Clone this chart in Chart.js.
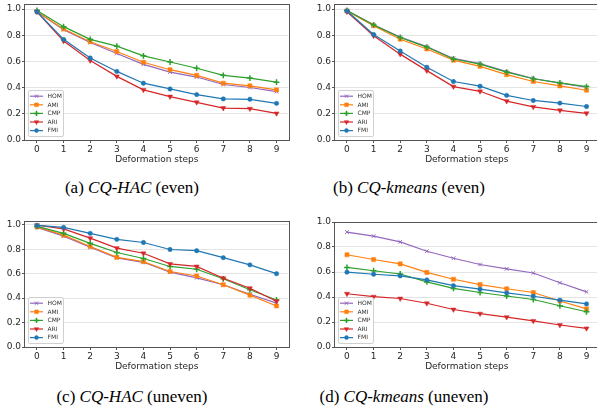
<!DOCTYPE html>
<html>
<head>
<meta charset="utf-8">
<script src="https://cdn.jsdelivr.net/npm/chart.js@4.4.1/dist/chart.umd.min.js"></script>
<style>
  body { margin: 0; width: 597px; height: 419px; overflow: hidden; background: #fff; position: relative; }
  canvas { position: absolute; }
  .cap { position: absolute; font-family: 'Liberation Serif', serif; font-size: 17px; line-height: 1;
         white-space: nowrap; transform: translate(-50%, -50%); color: #000; }
</style>
</head>
<body>
<canvas id="chartA" width="294" height="173" style="left:0px;top:-3px"></canvas>
<canvas id="chartB" width="294" height="173" style="left:310px;top:-3px"></canvas>
<canvas id="chartC" width="294" height="163" style="left:0px;top:214px"></canvas>
<canvas id="chartD" width="294" height="162" style="left:310px;top:215px"></canvas>
<div class="cap" style="left:132px;top:187px">(a) <i>CQ-HAC</i> (even)</div>
<div class="cap" style="left:409px;top:187px">(b) <i>CQ-kmeans</i> (even)</div>
<div class="cap" style="left:132px;top:396px">(c) <i>CQ-HAC</i> (uneven)</div>
<div class="cap" style="left:404px;top:396px">(d) <i>CQ-kmeans</i> (uneven)</div>
<script>
// x values and tick labels
const steps = [0, 1, 2, 3, 4, 5, 6, 7, 8, 9];
const yTicks = [0, 0.2, 0.4, 0.6, 0.8, 1.0];
const metrics = ['HOM', 'AMI', 'CMP', 'ARI', 'FMI'];

// (a) CQ-HAC (even)
const homA = [0.98, 0.843, 0.745, 0.661, 0.578, 0.519, 0.481, 0.424, 0.401, 0.370];
const amiA = [0.98, 0.848, 0.751, 0.676, 0.594, 0.537, 0.494, 0.434, 0.414, 0.383];
const cmpA = [0.99, 0.866, 0.769, 0.717, 0.643, 0.596, 0.548, 0.494, 0.473, 0.442];
const ariA = [0.98, 0.756, 0.607, 0.486, 0.383, 0.332, 0.288, 0.244, 0.239, 0.203];
const fmiA = [0.98, 0.769, 0.627, 0.524, 0.434, 0.390, 0.347, 0.314, 0.311, 0.280];

// (b) CQ-kmeans (even)
const homB = [0.99, 0.881, 0.786, 0.713, 0.623, 0.584, 0.522, 0.470, 0.434, 0.403];
const amiB = [0.985, 0.873, 0.770, 0.695, 0.610, 0.563, 0.499, 0.447, 0.413, 0.380];
const cmpB = [0.99, 0.879, 0.783, 0.710, 0.619, 0.580, 0.519, 0.468, 0.436, 0.408];
const ariB = [0.98, 0.796, 0.656, 0.530, 0.408, 0.372, 0.297, 0.253, 0.227, 0.204];
const fmiB = [0.985, 0.806, 0.680, 0.556, 0.447, 0.411, 0.341, 0.302, 0.282, 0.256];

// (c) CQ-HAC (uneven)
const homC = [0.979, 0.907, 0.817, 0.729, 0.693, 0.612, 0.566, 0.509, 0.432, 0.359];
const amiC = [0.982, 0.915, 0.822, 0.734, 0.698, 0.618, 0.581, 0.509, 0.424, 0.336];
const cmpC = [0.987, 0.930, 0.848, 0.773, 0.724, 0.659, 0.636, 0.558, 0.468, 0.385];
const ariC = [0.997, 0.966, 0.891, 0.809, 0.767, 0.680, 0.659, 0.563, 0.481, 0.375];
const fmiC = [0.995, 0.979, 0.930, 0.881, 0.855, 0.798, 0.788, 0.731, 0.672, 0.600];

// (d) CQ-kmeans (uneven)
const homD = [0.919, 0.887, 0.841, 0.766, 0.710, 0.660, 0.625, 0.592, 0.514, 0.441];
const amiD = [0.738, 0.700, 0.665, 0.597, 0.542, 0.499, 0.466, 0.436, 0.368, 0.305];
const cmpD = [0.637, 0.610, 0.584, 0.521, 0.469, 0.436, 0.408, 0.380, 0.330, 0.282];
const ariD = [0.426, 0.403, 0.388, 0.350, 0.300, 0.267, 0.239, 0.209, 0.176, 0.149];
const fmiD = [0.599, 0.582, 0.569, 0.537, 0.491, 0.463, 0.433, 0.406, 0.375, 0.345];

// style per metric (matplotlib tab colours / markers)
const styles = {
    HOM: { color: '#9467bd', pointStyle: 'crossRot', radius: 2.6, rotation: 0, pbw: 1 },
    AMI: { color: '#ff7f0e', pointStyle: 'rect', radius: 2.9, rotation: 0, pbw: 0.5 },
    CMP: { color: '#2ca02c', pointStyle: 'cross', radius: 2.9, rotation: 0, pbw: 1.5 },
    ARI: { color: '#d62728', pointStyle: 'triangle', radius: 2.9, rotation: 180, pbw: 0.5 },
    FMI: { color: '#1f77b4', pointStyle: 'circle', radius: 2.2, rotation: 0, pbw: 0.5 }
};

const tickFont = { family: 'DejaVu Sans', size: 9 };

// legend drawn inside the plot, lower left, plus the box frame
const insideLegend = {
    id: 'insideLegend',
    afterDraw(chart) {
        const { ctx, chartArea } = chart;
        const x0 = chartArea.left + 3.5;
        const h = 46, w = 35;
        const y0 = chartArea.bottom - 3.5 - h;
        ctx.save();
        ctx.fillStyle = 'rgba(255,255,255,0.85)';
        ctx.strokeStyle = '#d0d0d0';
        ctx.lineWidth = 1;
        ctx.beginPath();
        ctx.roundRect(x0, y0, w, h, 1.5);
        ctx.fill();
        ctx.stroke();
        ctx.font = '6px "DejaVu Sans"';
        ctx.textBaseline = 'middle';
        chart.data.datasets.forEach((ds, i) => {
            const st = styles[ds.label];
            const y = y0 + 5.7 + i * 8.6;
            ctx.strokeStyle = st.color;
            ctx.fillStyle = st.color;
            ctx.lineWidth = 1.2;
            ctx.beginPath();
            ctx.moveTo(x0 + 1.5, y);
            ctx.lineTo(x0 + 14.5, y);
            ctx.stroke();
            ctx.lineWidth = st.pbw;
            Chart.helpers.drawPoint(ctx, {
                pointStyle: st.pointStyle, rotation: st.rotation,
                radius: st.radius * 0.9, borderWidth: st.pbw
            }, x0 + 8, y);
            ctx.fillStyle = '#333';
            ctx.fillText(ds.label, x0 + 19, y + 0.3);
        });
        ctx.restore();

        // axes frame
        ctx.save();
        ctx.strokeStyle = '#555';
        ctx.lineWidth = 1;
        const l = Math.round(chartArea.left) - 0.5, t = Math.round(chartArea.top) + 0.5;
        const r = Math.round(chartArea.right) + 0.5, b = Math.round(chartArea.bottom) + 0.5;
        ctx.strokeRect(l, t, r - l, b - t);
        ctx.restore();
    }
};

function makePanel(id, series, yMax) {
    const datasets = metrics.map((m, i) => {
        const st = styles[m];
        return {
            label: m,
            data: series[i],
            borderColor: st.color,
            backgroundColor: st.color,
            borderWidth: 1.2,
            pointStyle: st.pointStyle,
            pointRotation: st.rotation,
            pointRadius: st.radius,
            pointBorderWidth: st.pbw,
            pointBackgroundColor: st.color,
            pointBorderColor: st.color,
            tension: 0,
            order: metrics.length - i
        };
    });

    return new Chart(document.getElementById(id), {
        type: 'line',
        data: { labels: steps, datasets: datasets },
        options: {
            responsive: false,
            animation: false,
            devicePixelRatio: 1,
            layout: { padding: { top: 7, right: 2, left: 0, bottom: 0 } },
            scales: {
                x: {
                    type: 'linear',
                    min: -0.45,
                    max: 9.45,
                    afterBuildTicks: s => { s.ticks = steps.map(v => ({ value: v })); },
                    afterFit: s => { s.height = 30; },
                    grid: { drawOnChartArea: false, drawTicks: true, tickLength: 3, tickColor: '#555' },
                    border: { display: false },
                    ticks: { font: tickFont, color: '#262626', padding: 1, maxRotation: 0 },
                    title: {
                        display: true,
                        text: 'Deformation steps',
                        font: { family: 'DejaVu Sans', size: 9 },
                        color: '#262626',
                        padding: { top: 0, bottom: 5 }
                    }
                },
                y: {
                    min: 0,
                    max: yMax,
                    afterBuildTicks: s => { s.ticks = yTicks.map(v => ({ value: v })); },
                    afterFit: s => { s.width = 25; },
                    grid: { color: '#e4e4e4', lineWidth: 1, tickLength: 3, tickColor: '#555' },
                    border: { display: false },
                    ticks: {
                        font: tickFont, color: '#262626', padding: 1,
                        callback: v => v.toFixed(1)
                    }
                }
            },
            plugins: {
                legend: { display: false },
                tooltip: { enabled: false }
            }
        },
        plugins: [insideLegend]
    });
}

function pointsOf(arr) {
    return arr.map((v, i) => ({ x: steps[i], y: v }));
}

makePanel('chartA', [homA, amiA, cmpA, ariA, fmiA].map(pointsOf), 1.039);
makePanel('chartB', [homB, amiB, cmpB, ariB, fmiB].map(pointsOf), 1.039);
makePanel('chartC', [homC, amiC, cmpC, ariC, fmiC].map(pointsOf), 1.031);
makePanel('chartD', [homD, amiD, cmpD, ariD, fmiD].map(pointsOf), 1.0);
</script>
</body>
</html>
